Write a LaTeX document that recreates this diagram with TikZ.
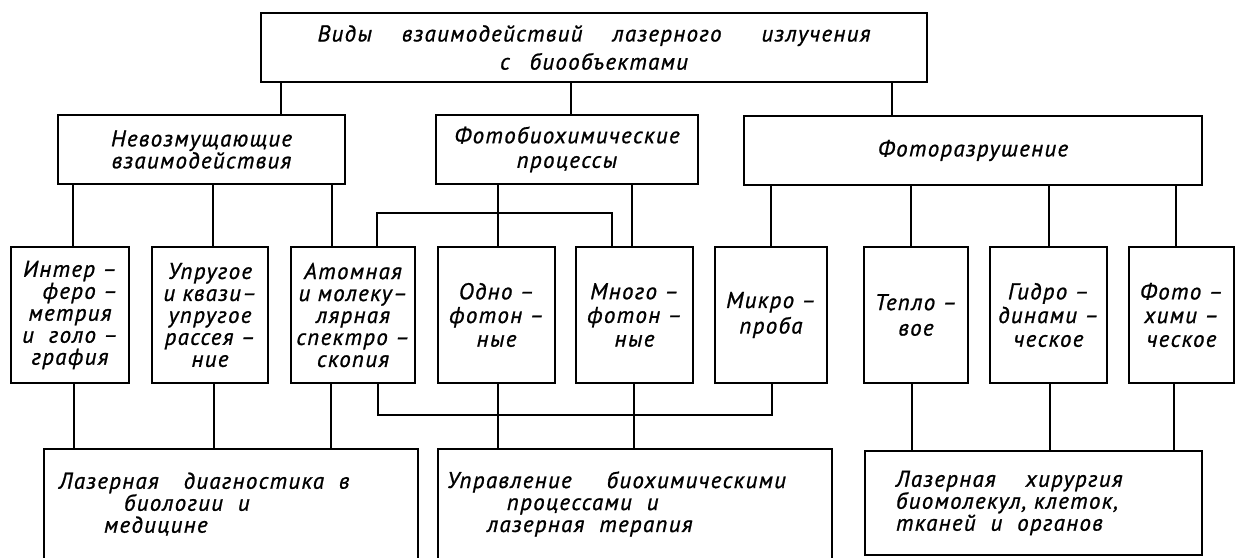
\documentclass[tikz,border=0pt]{standalone}
\usepackage{fontspec}
\usepackage{tikz}
\newfontfamily\gostfont{PT Sans}[LetterSpace=6, FakeBold=1]
\def\pxu{0.2mm}
\tikzset{
  blok/.style 2 args={draw, line width=1.2pt, inner sep=1pt, align=center,
    minimum width=#1*\pxu, minimum height=#2*\pxu,
    font=\gostfont\itshape\fontsize{13}{12.5}\selectfont},
  otkr/.style 2 args={blok={#1}{#2}, draw=none},
  link/.style={line width=1.2pt},
}

\begin{document}
\begin{tikzpicture}[x=\pxu, y=-\pxu]
  \fill[white] (0,0) rectangle (1237,558);
  \useasboundingbox (0,0) rectangle (1237,558);
  % top level
  \node[blok={666}{69}] (vidy) at (594,47.5)
    {Виды\hspace{6mm}взаимодействий\hspace{6mm}лазерного\hspace{8mm}излучения\\[3.5pt]с\hspace{4mm}биообъектами};
  % second level
  \node[blok={287}{69}] (nevoz) at (201.5,149.5) {Невозмущающие\\взаимодействия};
  \node[blok={262}{69}] (fotobio) at (567,149.5) {Фотобиохимические\\[1.5pt]процессы};
  \node[blok={458}{69}] (fotoraz) at (973,150.5) {Фоторазрушение};
  % third level
  \node[blok={118}{136}] (interf) at (70,315) {Интер –\\\hspace*{4mm}феро –\\метрия\\и\hspace{3mm}голо –\\графия};
  \node[blok={116}{136}] (uprug) at (210,315) {Упругое\\и квази–\\упругое\\рассея –\\ние};
  \node[blok={124}{136}] (atom) at (353,315) {Атомная\\и молеку–\\лярная\\спектро –\\скопия};
  \node[blok={117}{136}] (odno) at (496.5,315) {Одно –\\[1pt]фотон –\\[1pt]ные};
  \node[blok={117}{136}] (mnogo) at (634.5,315) {Много –\\[1pt]фотон –\\[1pt]ные};
  \node[blok={112}{136}] (mikro) at (771,315) {Микро –\\[2pt]проба};
  \node[blok={104}{136}] (teplo) at (916,315) {Тепло –\\[2pt]вое};
  \node[blok={117}{136}] (gidro) at (1048.5,315) {Гидро –\\[1pt]динами –\\[1pt]ческое};
  \node[blok={105}{136}] (fotohim) at (1181.5,315) {Фото –\\[1pt]хими –\\[1pt]ческое};
  % bottom level
  \node[otkr={372}{108}, text width=68.8mm, align=left] (diagn) at (231,504)
    {Лазерная\hspace{5mm}диагностика\hspace{3mm}в\\\hspace*{13mm}биологии\hspace{3mm}и\\\hspace*{9mm}медицине};
  \node[otkr={392}{108}, text width=75.2mm, align=left] (uprav) at (635,504)
    {Управление\hspace{7mm}биохимическими\\\hspace*{12mm}процессами\hspace{3mm}и\\\hspace*{8mm}лазерная\hspace{3mm}терапия};
  \node[blok={337}{104}, text width=55mm, align=left] (hirurg) at (1033.5,503)
    {Лазерная\hspace{6mm}хирургия\\биомолекул, клеток,\\тканей\hspace{3mm}и\hspace{3mm}органов};
  \draw[link] (diagn.south west) -- (diagn.north west) -- (diagn.north east) -- (diagn.south east);
  \draw[link] (uprav.south west) -- (uprav.north west) -- (uprav.north east) -- (uprav.south east);
  % connectors
  \foreach \x/\a/\b in {281/vidy/nevoz, 571/vidy/fotobio, 892/vidy/fotoraz,
      73/nevoz/interf, 213/nevoz/uprug, 332/nevoz/atom,
      498/fotobio/odno, 632/fotobio/mnogo,
      771/fotoraz/mikro, 911/fotoraz/teplo, 1049/fotoraz/gidro, 1176/fotoraz/fotohim,
      74/interf/diagn, 214/uprug/diagn, 331/atom/diagn,
      498/odno/uprav, 634/mnogo/uprav,
      912/teplo/hirurg, 1050/gidro/hirurg, 1174/fotohim/hirurg}
    \draw[link] (\a.south -| \x,0) -- (\b.north -| \x,0);
  \draw[link] (atom.north -| 377,0) -- ++(0,-33) -| (mnogo.north -| 612,0);
  \draw[link] (atom.south -| 378,0) -- ++(0,31) -| (mikro.south -| 772,0);
\end{tikzpicture}
\end{document}
